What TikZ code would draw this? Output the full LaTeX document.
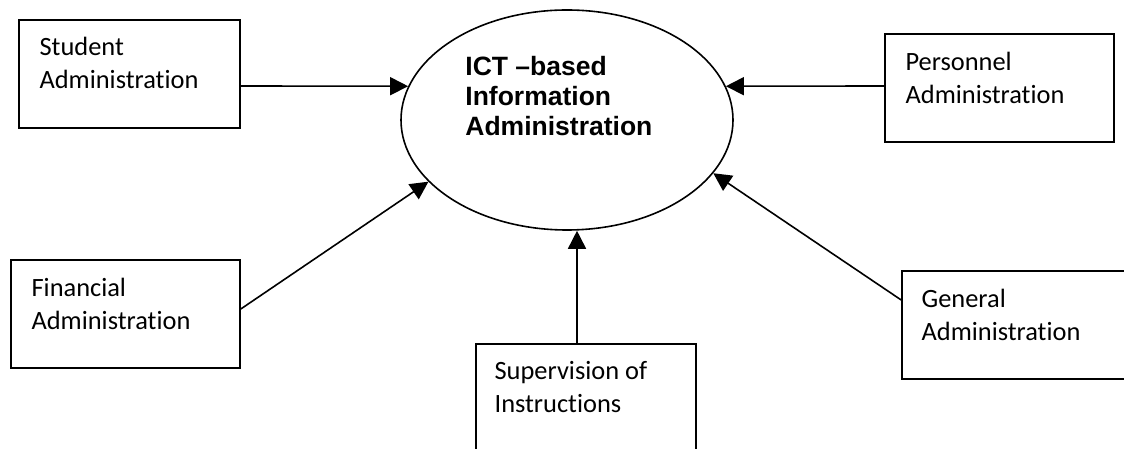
\documentclass[tikz,border=0pt]{standalone}
\usepackage{fontspec}
\setmainfont{Carlito}[Ligatures=NoCommon]
\newfontfamily\arialfont{Liberation Sans}
\usetikzlibrary{arrows.meta,shapes.geometric}

\tikzset{
  box/.style={draw, line width=0.8pt, inner sep=0pt},
  lbl/.style={anchor=base west, align=left, inner sep=0pt, font=\fontsize{13.2}{16.5}\selectfont},
  arr/.style={-{Triangle[length=9pt,width=9pt]}, line width=0.8pt},
}

\begin{document}
\begin{tikzpicture}[x=0.5pt,y=0.5pt]
          \clip (0,0) rectangle (1124,449);

          % Centre
          \node[ellipse, draw, line width=0.8pt, minimum width=166pt, minimum height=110pt] (ell) at (567,329) {};
          \node[anchor=base west, align=left, inner sep=0pt, font=\arialfont\bfseries\fontsize{13.25}{15.2}\selectfont] (ell-txt) at (465,313) {ICT –based\\Information\\Administration};

          % Boxes
          \node[box, minimum width=110.5pt, minimum height=54pt] (stud) at (129.5,375) {};
          \node[box, minimum width=114.5pt, minimum height=54pt] (pers) at (999.5,361) {};
          \node[box, minimum width=114.5pt, minimum height=54pt] (fin) at (125.5,135) {};
          \node[box, minimum width=110pt, minimum height=54pt] (sup) at (586,51) {};
          \node[box, minimum width=114.5pt, minimum height=54pt] (gen) at (1016.5,124) {};

          % Labels (anchored on the baseline of the last line)
          \node[lbl] (stud-txt) at ([shift={(21,-69)}]stud.north west) {Student\\Administration};
          \node[lbl] (pers-txt) at ([shift={(21,-70)}]pers.north west) {Personnel\\Administration};
          \node[lbl] (fin-txt) at ([shift={(21,-70)}]fin.north west) {Financial\\Administration};
          \node[lbl] (sup-txt) at ([shift={(19,-69)}]sup.north west) {Supervision of\\Instructions};
          \node[lbl] (gen-txt) at ([shift={(20,-70)}]gen.north west) {General\\Administration};

          % Arrows
          \draw[arr] ([yshift=-6pt]stud.east) -- (ell.168);
          \draw[arr] ([yshift=1pt]pers.west) -- (ell.12);
          \draw[arr] ([yshift=2.5pt]fin.east) -- (ell.204);
          \draw[arr] ([xshift=-4.5pt]sup.north) -- ([xshift=-4.5pt]sup.north |- ell.south);
          \draw[arr] ([yshift=12.5pt]gen.west) -- (ell.340);
        \end{tikzpicture}
\end{document}
